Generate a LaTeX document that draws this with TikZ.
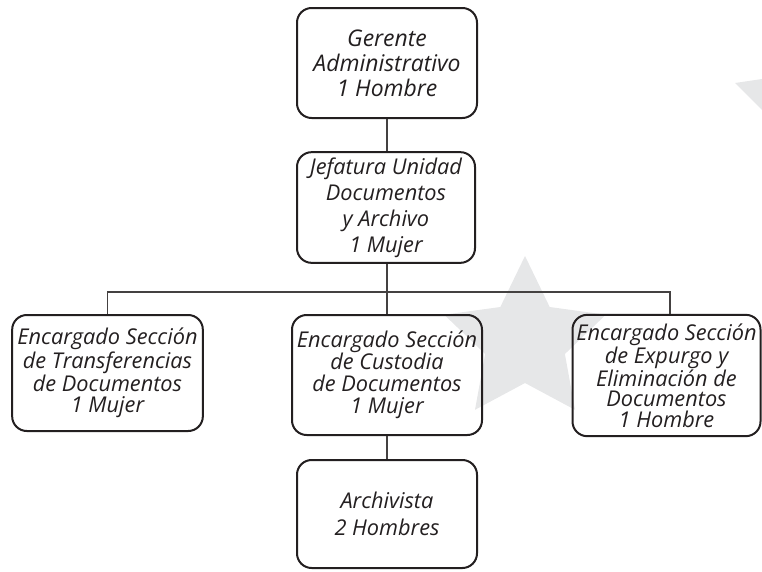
\documentclass[tikz,border=0pt]{standalone}
\usepackage{fontspec}
\setmainfont{Open Sans}
\definecolor{ink}{HTML}{231F20}
\definecolor{txt}{HTML}{231F20}
\definecolor{wm}{HTML}{E6E7E8}
\begin{document}
\begin{tikzpicture}[x=0.75pt,y=-0.75pt,
  orgbox/.style={draw=ink,line width=1.5pt,rounded corners=11pt,align=center,
    text=txt,inner sep=0pt,font=\itshape\fontsize{16.3}{18.75}\selectfont},
  link/.style={draw=ink!85,line width=1.1pt}]
\useasboundingbox (0,0) rectangle (762,571);
% watermark
\fill[wm] (525,256) -- (549.7,307) -- (605.8,314.7) -- (564.9,354) -- (575,409.8)
  -- (525,383) -- (475,409.8) -- (485.1,354) -- (444.2,314.7) -- (500.3,307) -- cycle;
\fill[wm] (735,83) -- (762,79) -- (762,110) -- cycle;
% nodes
\node[orgbox,minimum width=135pt,minimum height=82.5pt,
  font=\itshape\fontsize{17.2}{18.75}\selectfont] (ger) at (387,63)
  {Gerente\\Administrativo\\1 Hombre};
\node[orgbox,minimum width=133.5pt,minimum height=83pt,
  font=\itshape\fontsize{16.3}{19.5}\selectfont] (jef) at (386,207.5)
  {Jefatura Unidad\\Documentos\\y Archivo\\1 Mujer};
\node[orgbox,minimum width=143pt,minimum height=87pt,
  font=\itshape\fontsize{16.3}{15.9}\selectfont] (tra) at (107.5,373)
  {Encargado Sección\\de Transferencias\\de Documentos\\1 Mujer};
\node[orgbox,minimum width=142.5pt,minimum height=90pt,
  font=\itshape\fontsize{16.3}{16.5}\selectfont] (cus) at (387,375)
  {Encargado Sección\\de Custodia\\de Documentos\\1 Mujer};
\node[orgbox,minimum width=141pt,minimum height=91pt,
  font=\itshape\fontsize{16.3}{15.4}\selectfont] (exp) at (666.5,375.5)
  {Encargado Sección\\de Expurgo y\\Eliminación de\\Documentos\\1 Hombre};
\node[orgbox,minimum width=135pt,minimum height=81pt,
  font=\itshape\fontsize{16.3}{20.25}\selectfont] (arc) at (387,514)
  {Archivista\\2 Hombres};
% connectors
\coordinate (bus) at (387,292);
\draw[link] (ger.south) -- (ger.south |- jef.north);
\draw[link] (ger.south |- jef.south) -- (ger.south |- cus.north);
\draw[link] (tra.north) |- (bus) -| ([xshift=2.6pt]exp.north);
\draw[link] (cus.south) -- (arc.north);
\end{tikzpicture}
\end{document}
